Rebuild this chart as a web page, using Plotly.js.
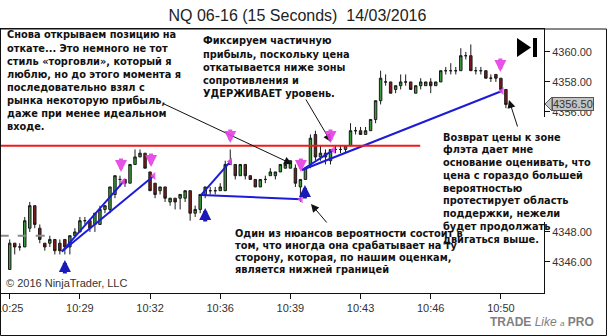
<!DOCTYPE html>
<html><head><meta charset="utf-8">
<script src="https://cdn.plot.ly/plotly-3.0.1.min.js"></script>
<style>html,body{margin:0;padding:0;background:#fff;}#chart{width:607px;height:336px;}</style>
</head><body><div id="chart"></div>
<script>
// ---- data (15-second bars, index 0 = 10:25:00) ----
const barIndex = [0,1,2,3,4,5,6,7,8,9,10,11,12,13,14,15,16,17,18,19,20,21,22,23,24,25,26,27,28,29,30,31,32,33,34,35,36,37,38,39,40,41,42,43,44,45,46,47,48,49,50,51,52,53,54,55,56,57,58,59,60,61,62,63,64,65,66,67,68,69,70,71,72,73,74,75,76,77,78,79,80,81,82,83,84,85,86,87,88,89,90,91,92,93,94,95,96,97,98,99];
const openP = [4345.5,4347.25,4347.0,4347.0,4348.25,4349.75,4348.25,4347.25,4347.25,4347.5,4347.25,4347.5,4347.0,4347.75,4348.0,4348.75,4348.75,4348.5,4348.5,4349.5,4349.5,4350.5,4351.5,4351.5,4351.25,4352.5,4353.0,4353.25,4352.0,4351.25,4350.75,4351.0,4350.0,4350.25,4350.25,4350.25,4350.75,4349.25,4349.5,4350.5,4350.75,4350.75,4350.75,4350.75,4352.5,4352.5,4351.75,4352.5,4351.75,4351.5,4351.0,4351.5,4351.75,4351.75,4352.0,4352.25,4352.25,4352.25,4351.0,4351.5,4352.5,4354.5,4353.0,4353.25,4352.75,4353.5,4353.5,4353.5,4353.75,4354.75,4354.75,4354.5,4354.75,4355.5,4356.75,4358.0,4358.0,4357.5,4357.75,4358.0,4358.0,4357.25,4357.75,4357.75,4358.0,4357.75,4358.0,4358.75,4358.75,4358.75,4358.75,4359.75,4359.75,4358.75,4358.75,4358.75,4358.25,4358.5,4358.25,4357.5];
const highP = [4347.5,4347.25,4347.25,4349.0,4350.0,4349.75,4348.5,4347.25,4347.75,4347.5,4347.5,4347.5,4347.75,4348.25,4349.0,4349.0,4348.75,4349.25,4349.75,4349.75,4351.0,4351.75,4351.75,4351.5,4352.5,4353.5,4353.5,4353.25,4352.0,4351.25,4351.0,4351.0,4350.25,4350.25,4350.5,4350.75,4350.75,4349.75,4350.5,4351.0,4351.0,4351.0,4351.25,4352.75,4353.5,4352.5,4352.5,4352.5,4351.75,4351.5,4351.5,4351.75,4352.25,4352.0,4352.5,4352.75,4352.75,4352.5,4351.5,4352.25,4354.5,4354.75,4353.75,4353.5,4353.5,4353.75,4353.75,4353.75,4355.25,4355.0,4355.0,4355.0,4355.5,4356.75,4358.75,4358.5,4358.0,4357.75,4358.5,4358.5,4358.0,4357.75,4358.25,4358.0,4358.25,4358.0,4358.75,4359.0,4359.25,4359.0,4360.25,4360.0,4360.5,4359.0,4359.0,4358.75,4358.5,4358.5,4358.25,4357.5];
const lowP = [4345.5,4346.5,4346.75,4347.0,4348.0,4348.25,4347.25,4346.75,4347.0,4346.5,4346.5,4346.5,4346.5,4347.75,4348.0,4348.5,4348.0,4348.0,4348.5,4349.25,4349.25,4350.25,4351.0,4351.0,4351.25,4352.5,4353.0,4352.25,4350.75,4350.25,4350.5,4350.0,4349.75,4349.5,4349.5,4350.0,4348.75,4349.0,4349.25,4350.25,4350.5,4350.5,4350.75,4350.75,4352.5,4351.5,4351.75,4351.5,4351.5,4351.0,4351.0,4351.25,4351.75,4351.5,4352.0,4352.25,4352.25,4351.0,4350.0,4351.5,4352.25,4352.75,4352.75,4352.5,4352.5,4353.25,4353.25,4353.25,4353.75,4354.5,4354.5,4354.5,4354.75,4355.25,4356.5,4357.75,4357.25,4357.25,4357.5,4357.75,4357.5,4357.25,4357.5,4357.75,4357.25,4357.75,4358.0,4358.5,4358.5,4358.5,4358.75,4359.5,4358.75,4358.5,4358.5,4358.25,4358.0,4358.0,4357.5,4356.25];
const closeP = [4347.25,4347.0,4347.0,4348.75,4349.75,4348.5,4347.5,4347.0,4347.5,4346.75,4346.75,4347.0,4347.75,4348.0,4348.75,4348.75,4348.25,4349.25,4349.5,4349.75,4351.0,4351.75,4351.5,4351.25,4352.5,4353.0,4353.25,4352.25,4350.75,4350.5,4351.0,4350.25,4350.25,4350.0,4350.5,4350.75,4349.25,4349.5,4350.5,4351.0,4350.75,4350.75,4351.0,4352.5,4352.75,4351.75,4352.5,4351.75,4351.5,4351.0,4351.5,4351.5,4352.0,4352.0,4352.5,4352.5,4352.75,4351.25,4351.5,4352.25,4354.25,4353.0,4353.25,4353.0,4353.5,4353.5,4353.5,4353.75,4354.75,4354.75,4354.5,4354.75,4355.5,4356.75,4358.25,4358.0,4357.25,4357.75,4358.0,4358.0,4357.5,4357.75,4358.0,4358.0,4357.75,4358.0,4358.75,4358.75,4358.75,4358.75,4359.75,4359.75,4358.75,4358.75,4358.75,4358.25,4358.25,4358.25,4357.5,4356.5];

const tickBars = [0,14,28,42,56,70,84,98];
const tickLabels = ["10:25","10:29","10:32","10:36","10:39","10:43","10:46","10:50"];
// 4350-4354 labels are hidden behind the right-hand note in the reference
const priceTicks = [4346,4348,4356,4358,4360];
const lastPrice = 4356.5;
const resistance = 4353.75;
const resistanceEndBar = 81.9;
const prevLevel = 4347.75;
const prevLevelEndBar = 8;

// drawn trend lines (bar index / price)
const trendX0 = [10.4, 10.4, 38.2, 38.2, 58.3, 58.3];
const trendY0 = [4346.69, 4346.69, 4350.47, 4350.47, 4352.13, 4352.13];
const trendX1 = [22.7, 28.7, 44.0, 58.1, 64.6, 98.2];
const trendY1 = [4351.35, 4351.73, 4352.69, 4350.18, 4353.47, 4357.4];

// magenta "exit" arrows (tip) and blue "entry" arrows (tip)
const exitX = [22.2, 28.2, 44.0, 58.1, 64.0, 97.9];
const exitY = [4352.0, 4352.33, 4353.93, 4352.0, 4353.93, 4358.67];
const entryX = [11.0, 39.0, 58.9];
const entryY = [4346.13, 4349.6, 4351.13];

const title = "NQ 06-16 (15 Seconds) \u00a014/03/2016";
const note1 = ["Снова открываем позицию на","откате... Это немного не тот","стиль «торговли», который я","люблю, но до этого момента я","последовательно взял с","рынка некоторую прибыль,","даже при менее идеальном","входе."];
const note2 = ["Фиксируем частичную","прибыль, поскольку цена","откатывается ниже зоны","сопротивления и","УДЕРЖИВАЕТ уровень."];
const note3 = ["Один из нюансов вероятности состоит в","том, что иногда она срабатывает на ту","сторону, которая, по нашим оценкам,","является нижней границей"];
const note4 = ["Возврат цены к зоне","флэта дает мне","основание оценивать, что","цена с гораздо большей","вероятностью","протестирует область","поддержки, нежели","будет продолжать","двигаться выше."];

// ---- layout helpers (pixel -> paper) ----
const L = 1, R = 63, T = 29, B = 43, W = 607, H = 336;
const PW = W - L - R, PH = H - T - B;
const px = x => (x - L) / PW;
const py = y => (H - B - y) / PH;

const traces = [];
traces.push({
  type: 'candlestick', x: barIndex, open: openP, high: highP, low: lowP, close: closeP,
  increasing: {line: {color: '#1b1b1b', width: 1}, fillcolor: '#3a9a3a'},
  decreasing: {line: {color: '#1b1b1b', width: 1}, fillcolor: '#7d1a1a'},
  whiskerwidth: 0, hoverinfo: 'skip', showlegend: false
});
const lx = [], ly = [];
for (let k = 0; k < trendX0.length; k++) { lx.push(trendX0[k], trendX1[k], null); ly.push(trendY0[k], trendY1[k], null); }
traces.push({type: 'scatter', mode: 'lines', x: lx, y: ly, line: {color: '#1c1cd8', width: 2}, hoverinfo: 'skip', showlegend: false});
traces.push({type: 'scatter', mode: 'markers', x: trendX1, y: trendY1, cliponaxis: false,
  marker: {symbol: 'triangle-left', size: 7, color: 'rgba(230,70,230,0.85)'}, hoverinfo: 'skip', showlegend: false});

const shapes = [
  {type: 'line', xref: 'x', yref: 'y', x0: -2, x1: resistanceEndBar, y0: resistance, y1: resistance, line: {color: '#ee1b1b', width: 2}},
  {type: 'line', xref: 'x', yref: 'y', x0: -2, x1: prevLevelEndBar, y0: prevLevel, y1: prevLevel, line: {color: '#8a8a8a', width: 2, dash: 'dash'}},
  {type: 'rect', xref: 'paper', yref: 'paper', x0: px(538), x1: px(607), y0: py(222), y1: py(117), fillcolor: '#fff', line: {width: 0}, layer: 'above'},
  {type: 'rect', xref: 'paper', yref: 'paper', x0: px(0.5), x1: px(606.5), y0: py(335.5), y1: py(29), line: {color: '#111', width: 1}, layer: 'above'},
  {type: 'path', xref: 'paper', yref: 'paper', path: `M${px(517)},${py(38)} L${px(531)},${py(47.5)} L${px(517)},${py(57)} Z`, fillcolor: '#000', line: {width: 0}, layer: 'above'},
  {type: 'rect', xref: 'paper', yref: 'paper', x0: px(533), x1: px(537), y0: py(57), y1: py(38), fillcolor: '#000', line: {width: 0}, layer: 'above'},
  {type: 'path', xref: 'paper', yref: 'paper', path: `M${px(545)},${py(104)} L${px(552)},${py(97)} L${px(552)},${py(111)} Z`, fillcolor: '#c4c4c4', line: {color: '#555', width: 1}, layer: 'above'}
];

const noteFont = {family: 'DejaVu Sans', size: 9.8, color: '#111', weight: 'bold'};
const annotations = [];
function addNote(lines, left, firstY, step) {
  lines.forEach((t, k) => annotations.push({xref: 'paper', yref: 'paper', x: px(left), y: py(firstY + k * step),
    xanchor: 'left', yanchor: 'middle', align: 'left', showarrow: false, text: t, font: noteFont, borderpad: 0}));
}
addNote(note1, 6, 35, 13.1);
addNote(note2, 202, 41, 13);
addNote(note3, 234, 233, 12.3);
addNote(note4, 442, 137, 12.75);

annotations.push(
  {xref: 'paper', yref: 'paper', x: px(4), y: py(283), xanchor: 'left', yanchor: 'middle', showarrow: false, text: '© 2016 NinjaTrader, LLC', font: {family: 'Liberation Sans', size: 11, color: '#333'}},
  {xref: 'paper', yref: 'paper', x: px(596), y: py(322), xanchor: 'right', yanchor: 'middle', showarrow: false,
   text: '<b>TRADE</b> <i>Like</i> <i><span style="font-size:8px">a</span></i> <b>PRO</b>', font: {family: 'Liberation Sans', size: 12, color: '#808080'}},
  {xref: 'paper', yref: 'y', x: px(552), y: lastPrice, xanchor: 'left', yanchor: 'middle', showarrow: false, text: lastPrice.toFixed(2),
   bgcolor: '#c4c4c4', bordercolor: '#555', borderwidth: 1, borderpad: 0, font: {family: 'Liberation Sans', size: 11, color: '#333'}},
  {xref: 'paper', yref: 'paper', x: px(292), y: py(164), ax: 162 - 292, ay: 103 - 164, text: '', showarrow: true, arrowhead: 2, arrowsize: 1.6, arrowwidth: 1, arrowcolor: '#111', standoff: 0},
  {xref: 'paper', yref: 'paper', x: px(331), y: py(142), ax: 305 - 331, ay: 98 - 142, text: '', showarrow: true, arrowhead: 2, arrowsize: 1.6, arrowwidth: 1, arrowcolor: '#111', standoff: 0},
  {xref: 'paper', yref: 'paper', x: px(311), y: py(204), ax: 328 - 311, ay: 224 - 204, text: '', showarrow: true, arrowhead: 2, arrowsize: 1.6, arrowwidth: 1, arrowcolor: '#111', standoff: 0},
  {xref: 'paper', yref: 'paper', x: px(509), y: py(100), ax: 518 - 509, ay: 128 - 100, text: '', showarrow: true, arrowhead: 2, arrowsize: 1.6, arrowwidth: 1, arrowcolor: '#111', standoff: 0}
);
for (let k = 0; k < exitX.length; k++) {
  annotations.push({xref: 'x', yref: 'y', x: exitX[k], y: exitY[k], ax: 0, ay: -15, text: '', showarrow: true, arrowhead: 2, arrowsize: 0.6, arrowwidth: 4, arrowcolor: 'rgba(228,64,228,0.9)', standoff: 0});
}
for (let k = 0; k < entryX.length; k++) {
  annotations.push({xref: 'x', yref: 'y', x: entryX[k], y: entryY[k], ax: 0, ay: 15, text: '', showarrow: true, arrowhead: 2, arrowsize: 0.6, arrowwidth: 4, arrowcolor: '#1a1ab8', standoff: 0});
}

const layout = {
  width: W, height: H, margin: {l: L, r: R, t: T, b: B}, paper_bgcolor: '#fff', plot_bgcolor: '#fff',
  title: {text: title, x: 0.49, xanchor: 'center', y: 1 - 15 / H, yanchor: 'middle', yref: 'container', font: {family: 'Liberation Sans', size: 16, color: '#222'}},
  showlegend: false, hovermode: false,
  xaxis: {range: [-1.74, 106.6], rangeslider: {visible: false}, tickvals: tickBars, ticktext: tickLabels, ticks: 'outside', ticklen: 5, tickcolor: '#111',
    ticklabeloverflow: 'allow', showgrid: false, zeroline: false, showline: true, mirror: true, linecolor: '#111', linewidth: 1,
    tickfont: {family: 'Liberation Sans', size: 11, color: '#333'}},
  yaxis: {side: 'right', range: [4343.93, 4361.53], tickvals: priceTicks, tickformat: '.2f', ticks: 'outside', ticklen: 5, tickcolor: '#111',
    showgrid: false, zeroline: false, showline: true, mirror: true, linecolor: '#111', linewidth: 1, tickfont: {family: 'Liberation Sans', size: 11, color: '#333'}},
  shapes: shapes, annotations: annotations
};
Plotly.newPlot('chart', traces, layout, {displayModeBar: false, staticPlot: true});
</script></body></html>
